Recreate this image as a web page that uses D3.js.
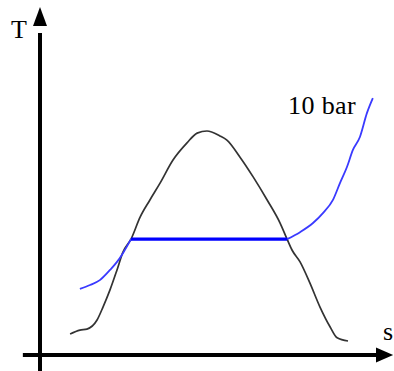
<!DOCTYPE html>
<html><head><meta charset="utf-8">
<script src="https://cdn.jsdelivr.net/npm/d3@7"></script>
<style>html,body{margin:0;padding:0;background:#fff;}svg{display:block;}</style>
</head><body>
<script>
// Saturation dome (entropy s, temperature T) in arbitrary units
const domeS = [0.86,1.14,1.34,1.63,1.80,2.00,2.20,2.37,2.60,2.86,3.14,3.43,3.80,4.20,4.49,4.77,5.14,5.34,5.71,6.09,6.49,6.86,7.06,7.20,7.43,7.71,8.00,8.29,8.49,8.80];
const domeT = [0.60,0.71,0.74,1.00,1.37,1.86,2.43,2.94,3.31,3.94,4.43,4.91,5.57,6.06,6.34,6.40,6.26,6.14,5.66,5.09,4.43,3.77,3.31,3.00,2.66,2.06,1.37,0.80,0.49,0.40];
// 10 bar isobar: compressed liquid part, evaporation line, superheated part
const liquidS = [1.14,1.43,1.71,2.00,2.20,2.37,2.60];
const liquidT = [1.89,2.00,2.14,2.43,2.66,2.91,3.31];
const evapS = [2.60,7.06];
const evapT = [3.31,3.31];
const vaporS = [7.06,7.43,7.80,8.09,8.37,8.57,8.77,8.94,9.14,9.34,9.51];
const vaporT = [3.31,3.51,3.77,4.06,4.43,4.91,5.37,5.86,6.23,6.91,7.34];
const isobarLabel = "10 bar";
const xLabel = "s";
const yLabel = "T";

const W = 394, H = 371;
const svg = d3.select("body").append("svg").attr("width", W).attr("height", H);
const x = d3.scaleLinear().domain([0,10]).range([40,390]);
const y = d3.scaleLinear().domain([0,10]).range([355,5]);
const zip = (a,b) => a.map((v,i)=>[v,b[i]]);
const line = d3.line().x(d=>x(d[0])).y(d=>y(d[1])).curve(d3.curveMonotoneX);

// axes
svg.append("line").attr("x1",x(0)).attr("x2",x(0)).attr("y1",y(-0.46)).attr("y2",y(9.2))
  .attr("stroke","#000").attr("stroke-width",4);
svg.append("path").attr("d",`M${x(0)},${y(9.94)} L${x(0)-7},${y(9.4)} L${x(0)+7},${y(9.4)} Z`).attr("fill","#000");
svg.append("line").attr("x1",x(-0.49)).attr("x2",x(9.95)).attr("y1",y(0)).attr("y2",y(0))
  .attr("stroke","#000").attr("stroke-width",4);
svg.append("path").attr("d",`M${x(10.09)},${y(0)} L${x(9.6)},${y(0)+7.5} L${x(9.6)},${y(0)-7.5} Z`).attr("fill","#000");

// dome
svg.append("path").attr("d",line(zip(domeS,domeT))).attr("fill","none").attr("stroke","#333").attr("stroke-width",1.7);
// isobar
svg.append("path").attr("d",line(zip(liquidS,liquidT))).attr("fill","none").attr("stroke","#3a3aff").attr("stroke-width",1.8);
svg.append("path").attr("d",line(zip(vaporS,vaporT))).attr("fill","none").attr("stroke","#3a3aff").attr("stroke-width",1.8);
svg.append("path").attr("d",d3.line().x(d=>x(d[0])).y(d=>y(d[1]))(zip(evapS,evapT))).attr("fill","none").attr("stroke","#0000ff").attr("stroke-width",3.3);

const font = '"Liberation Serif"';
svg.append("text").attr("x",11).attr("y",38).style("font-family",font).style("font-size","26px").text(yLabel);
svg.append("text").attr("x",383).attr("y",340).style("font-family",font).style("font-size","26px").text(xLabel);
svg.append("text").attr("x",288).attr("y",114).style("font-family",font).style("font-size","26px").style("letter-spacing","0.4px").text(isobarLabel);
</script>
</body></html>
